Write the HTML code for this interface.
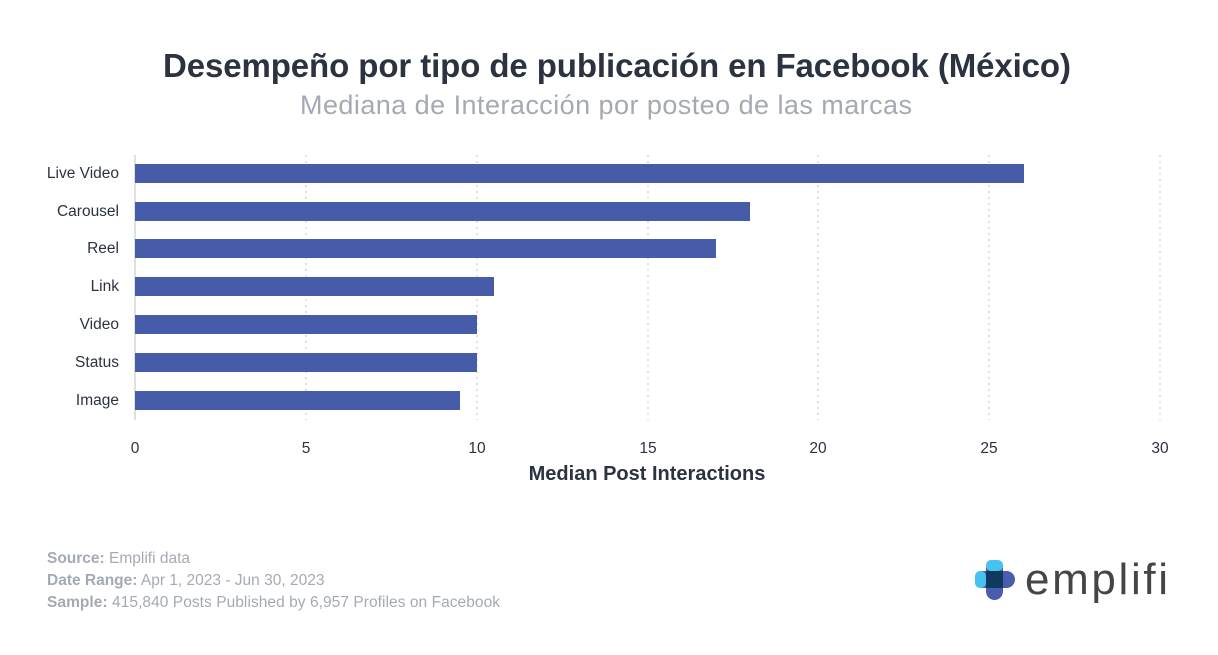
<!DOCTYPE html><html><head><style>body{margin:0;background:#fff;width:1218px;height:650px;overflow:hidden;font-family:"Liberation Sans",sans-serif}</style></head><body>
<svg width="1218" height="650" xmlns="http://www.w3.org/2000/svg" font-family="Liberation Sans, sans-serif">
<text x="617" y="77" text-anchor="middle" font-size="33" font-weight="bold" fill="#2b3240" textLength="908">Desempeño por tipo de publicación en Facebook (México)</text>
<text x="606" y="114" text-anchor="middle" font-size="27" fill="#a4aab3" textLength="612">Mediana de Interacción por posteo de las marcas</text>
<g stroke="#d4d7dc" stroke-dasharray="2,4" stroke-width="1.5">
<line x1="306" y1="155" x2="306" y2="420"/><line x1="477" y1="155" x2="477" y2="420"/><line x1="648" y1="155" x2="648" y2="420"/><line x1="818" y1="155" x2="818" y2="420"/><line x1="989" y1="155" x2="989" y2="420"/><line x1="1160" y1="155" x2="1160" y2="420"/></g>
<line x1="135" y1="155" x2="135" y2="420" stroke="#d4d7dc" stroke-width="1.5"/>
<g fill="#475ca9">
<rect x="135" y="164" width="889" height="19"/><rect x="135" y="202" width="615" height="19"/><rect x="135" y="239" width="581" height="19"/><rect x="135" y="277" width="359" height="19"/><rect x="135" y="315" width="342" height="19"/><rect x="135" y="353" width="342" height="19"/><rect x="135" y="391" width="325" height="19"/></g>
<g font-size="15.5" fill="#2b3240" text-anchor="end">
<text x="119" y="178">Live Video</text><text x="119" y="216">Carousel</text><text x="119" y="253">Reel</text><text x="119" y="291">Link</text><text x="119" y="329">Video</text><text x="119" y="367">Status</text><text x="119" y="405">Image</text></g>
<g font-size="15.5" fill="#2b3240" text-anchor="middle">
<text x="135" y="453">0</text><text x="306" y="453">5</text><text x="477" y="453">10</text><text x="648" y="453">15</text><text x="818" y="453">20</text><text x="989" y="453">25</text><text x="1160" y="453">30</text></g>
<text x="647" y="480" text-anchor="middle" font-size="20" font-weight="bold" fill="#2b3240">Median Post Interactions</text>
<g font-size="15.5" fill="#a4aab3">
<text x="47" y="563"><tspan font-weight="bold">Source:</tspan> Emplifi data</text>
<text x="47" y="585"><tspan font-weight="bold">Date Range:</tspan> Apr 1, 2023 - Jun 30, 2023</text>
<text x="47" y="607" textLength="453"><tspan font-weight="bold">Sample:</tspan> 415,840 Posts Published by 6,957 Profiles on Facebook</text></g>
<rect x="986" y="560" width="17" height="40" rx="8.5" fill="#4a5cad"/>
<rect x="975" y="571" width="40" height="17" rx="8.5" fill="#4a5cad"/>
<rect x="986" y="571" width="17" height="17" fill="#0d3a5e"/>
<rect x="986" y="560" width="17" height="11" rx="5" fill="#47c2ee"/>
<rect x="975" y="571" width="11" height="17" rx="5" fill="#47c2ee"/>
<text x="1025" y="594" font-size="44" fill="#454545" textLength="143">emplifi</text>
</svg></body></html>
